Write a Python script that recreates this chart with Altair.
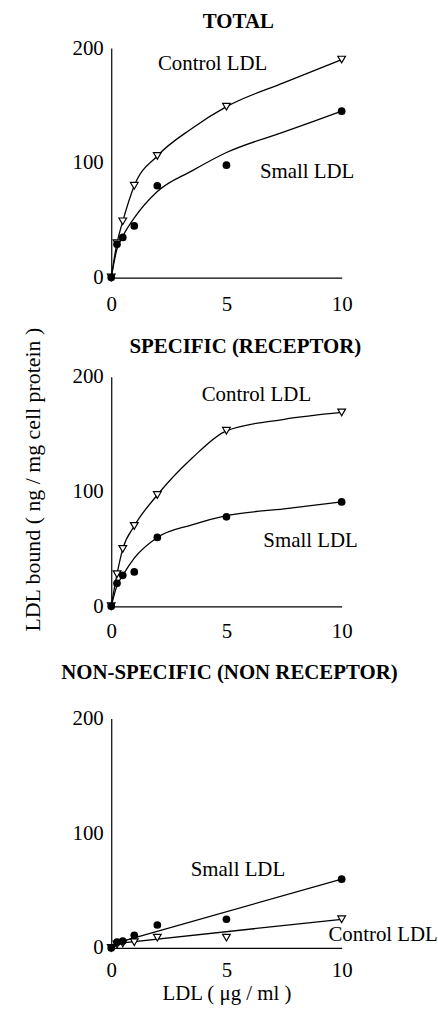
import altair as alt
import pandas as pd

# ---- data ----
conc = [0, 0.25, 0.5, 1, 2, 5, 10]
total_control = [0, 30, 49, 80, 106, 149, 190]
total_small = [0, 29, 35, 45, 80, 98, 145]
specific_control = [0, 28, 50, 70, 97, 153, 169]
specific_small = [0, 20, 27, 30, 60, 78, 91]
nonspecific_control = [0, 3, 4, 5, 9, 9, 25]
nonspecific_small = [0, 5, 6, 11, 20, 25, 60]

# fitted curves as drawn in the picture
curve_x = [0, 0.25, 0.5, 1, 2, 3.5, 5, 7.5, 10]
total_control_fit = [0, 30, 49, 80, 106, 130, 149, 170, 190]
total_small_fit = [0, 25, 36, 52, 75, 93, 109, 127, 145]
specific_control_fit = [0, 28, 50, 70, 97, 129, 153, 163, 169]
specific_small_fit = [0, 18, 27, 42, 60, 71, 79, 85, 91]
line_x = [0, 0.5, 10]
nonspecific_control_fit = [0, 4.5, 25]
nonspecific_small_fit = [0, 6, 60]

series_names = ["Control LDL", "Small LDL"]
panel_titles = ["TOTAL", "SPECIFIC (RECEPTOR)", "NON-SPECIFIC (NON RECEPTOR)"]

# annotation anchors in data units (x, y)
total_label_x = [4.4, 8.5]
total_label_y = [186, 92]
specific_label_x = [6.3, 8.65]
specific_label_y = [184, 57]
nonspecific_label_x = [11.8, 5.5]
nonspecific_label_y = [11, 68]

x_ticks = [0, 5, 10]
y_ticks = [0, 100, 200]
y_title = "LDL bound  ( ng / mg cell protein )"
x_title = "LDL  ( μg / ml )"

FONT = "Liberation Serif"
W, H = 232, 231


def panel(title, ctrl, small, fit_x, ctrl_fit, small_fit, lab_x, lab_y,
          title_offset, title_dx, show_x_title, label_pad, interp):
    pts = pd.DataFrame({
        "x": conc + conc,
        "y": ctrl + small,
        "series": [series_names[0]] * len(conc) + [series_names[1]] * len(conc),
    })
    fit = pd.DataFrame({
        "x": fit_x + fit_x,
        "y": ctrl_fit + small_fit,
        "series": [series_names[0]] * len(fit_x) + [series_names[1]] * len(fit_x),
    })
    labs = pd.DataFrame({"x": lab_x, "y": lab_y, "text": series_names})

    x_axis_kw = dict(values=x_ticks, labelPadding=label_pad, labelFont=FONT, labelFontSize=21,
                     labelColor="black", ticks=False, grid=False, domainColor="black",
                     domainWidth=1.2, labelFlush=False)
    if show_x_title:
        x_axis_kw.update(title=x_title, titleFontWeight="normal", titleFontSize=21,
                         titleFont=FONT, titlePadding=2, titleColor="black")
    else:
        x_axis_kw.update(title=None)
    xenc = alt.X("x:Q", scale=alt.Scale(domain=[0, 10], nice=False),
                 axis=alt.Axis(**x_axis_kw))
    yenc = alt.Y("y:Q", scale=alt.Scale(domain=[0, 200], nice=False),
                 axis=alt.Axis(values=y_ticks, title=None,
                               labelPadding=8, labelFont=FONT, labelFontSize=21,
                               labelColor="black", ticks=False, grid=False,
                               domainColor="black", domainWidth=1.2, labelFlush=False))

    lines = alt.Chart(fit).mark_line(interpolate=interp, color="black",
                                     strokeWidth=1.3).encode(x=xenc, y=yenc, detail="series:N")
    ctrl_pts = alt.Chart(pts[pts.series == series_names[0]]).mark_point(
        shape="triangle-down", filled=True, fill="white", stroke="black",
        strokeWidth=1.2, size=60, opacity=1).encode(x="x:Q", y="y:Q")
    small_pts = alt.Chart(pts[pts.series == series_names[1]]).mark_point(
        shape="circle", filled=True, color="black", size=60, opacity=1).encode(x="x:Q", y="y:Q")
    texts = alt.Chart(labs).mark_text(font=FONT, fontSize=21, color="black").encode(
        x="x:Q", y="y:Q", text="text:N")

    return alt.layer(lines, ctrl_pts, small_pts, texts).properties(
        width=W, height=H,
        title=alt.TitleParams(title, font=FONT, fontSize=21, fontWeight="bold",
                              color="black", anchor="middle", offset=title_offset,
                              dx=title_dx, frame="group"),
    )


p1 = panel(panel_titles[0], total_control, total_small, curve_x,
           total_control_fit, total_small_fit, total_label_x, total_label_y,
           5.5, 12, False, 16, "monotone")
p2 = panel(panel_titles[1], specific_control, specific_small, curve_x,
           specific_control_fit, specific_small_fit, specific_label_x, specific_label_y,
           9.5, 19, False, 14, "monotone")
p3 = panel(panel_titles[2], nonspecific_control, nonspecific_small, line_x,
           nonspecific_control_fit, nonspecific_small_fit, nonspecific_label_x,
           nonspecific_label_y, 25, 3, True, 12, "linear")

panels = alt.vconcat(p1, p2, p3, spacing=21)

# shared y-axis title, drawn by an otherwise empty axis to the left of the panels
y_holder = alt.Chart(pd.DataFrame({"v": [0]})).mark_point(opacity=0, size=0).encode(
    y=alt.Y("v:Q", scale=alt.Scale(domain=[0, 1]),
            axis=alt.Axis(title=y_title, labels=False, ticks=False, domain=False,
                          grid=False, minExtent=0, titlePadding=0, titleY=434,
                          titleFont=FONT, titleFontSize=22, titleFontWeight="normal",
                          titleColor="black"))
).properties(width=1, height=900)

chart = alt.hconcat(y_holder, panels, spacing=15).properties(
    padding={"left": 22, "top": 7, "right": 0, "bottom": 0},
    background="white",
).configure_view(stroke=None)

chart.save("out.html", embed_options={"renderer": "svg", "actions": False})
